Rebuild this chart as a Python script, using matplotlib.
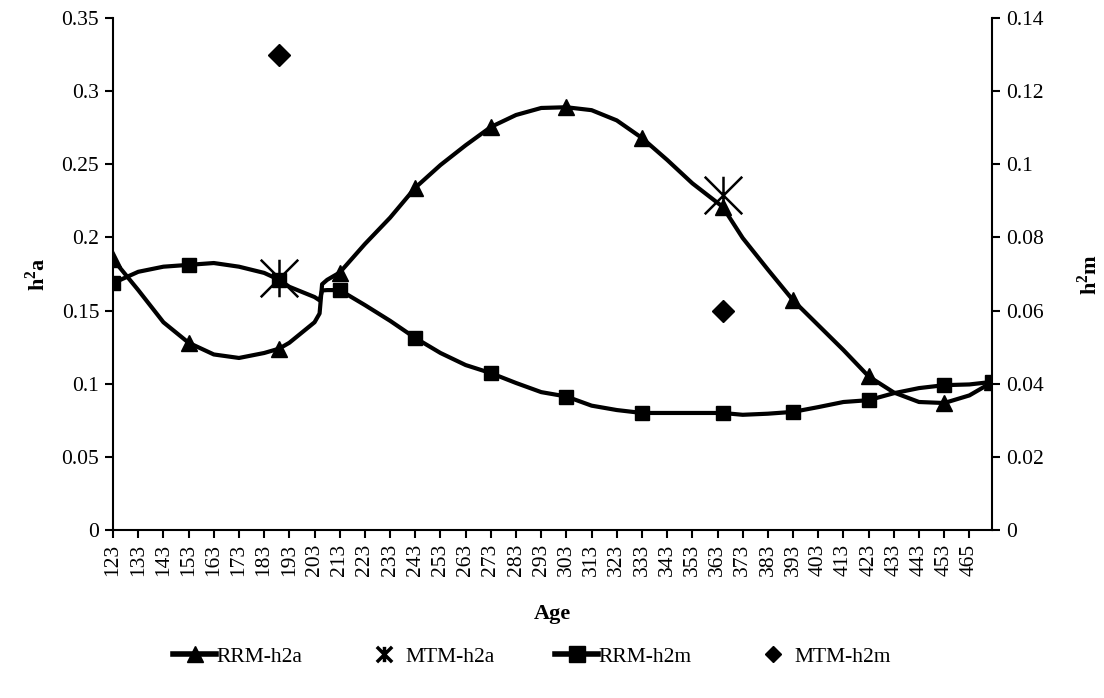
import matplotlib
matplotlib.use("Agg")
import matplotlib.pyplot as plt
from matplotlib.path import Path
from matplotlib.lines import Line2D

plt.rcParams['font.family'] = ['Liberation Serif', 'DejaVu Serif']

# category axis: labels every 10 categories
tick_labels = ['123', '133', '143', '153', '163', '173', '183', '193', '203', '213',
               '223', '233', '243', '253', '263', '273', '283', '293', '303', '313',
               '323', '333', '343', '353', '363', '373', '383', '393', '403', '413',
               '423', '433', '443', '453', '465']
n_cat = 349

# RRM-h2a curve (left axis), category position -> value
pos_a = [0, 10, 20, 30, 40, 50, 60, 66, 70, 80, 82, 83, 85, 90, 100, 110, 120, 130,
         140, 150, 160, 170, 180, 190, 200, 210, 220, 230, 242, 250, 260, 270, 280,
         290, 300, 310, 320, 330, 340, 349]
rrm_h2a = [0.185, 0.164, 0.142, 0.128, 0.120, 0.1176, 0.121, 0.124, 0.128, 0.142,
           0.148, 0.168, 0.171, 0.176, 0.1955, 0.2135, 0.234, 0.2495, 0.263, 0.2755,
           0.2837, 0.2885, 0.289, 0.287, 0.280, 0.268, 0.253, 0.237, 0.221, 0.1996,
           0.178, 0.157, 0.140, 0.123, 0.105, 0.094, 0.0875, 0.0868, 0.092, 0.101]

# RRM-h2m curve (right axis)
pos_m = pos_a
rrm_h2m = [0.0675, 0.0706, 0.072, 0.0725, 0.073, 0.072, 0.0703, 0.0684, 0.0665, 0.0637,
           0.0628, 0.0655, 0.0656, 0.0656, 0.0615, 0.0572, 0.0525, 0.0484, 0.0451, 0.0429,
           0.0402, 0.0377, 0.0365, 0.034, 0.0328, 0.032, 0.032, 0.032, 0.032, 0.0315,
           0.0318, 0.0323, 0.0336, 0.035, 0.0355, 0.0374, 0.0388, 0.0396, 0.0398, 0.0405]

# points where markers are shown
mark_pos = [0, 30, 66, 90, 120, 150, 180, 210, 242, 270, 300, 330, 349]

# MTM estimates
mtm_pos = [66, 242]
mtm_h2a = [0.172, 0.229]
mtm_h2m = [0.13, 0.06]

# asterisk marker like Excel's
star = Path([(-1, -1), (1, 1), (-1, 1), (1, -1), (0, -1), (0, 1)],
            [Path.MOVETO, Path.LINETO, Path.MOVETO, Path.LINETO, Path.MOVETO, Path.LINETO])

fig = plt.figure(figsize=(11.04, 6.98), dpi=100)
ax = fig.add_axes([0.1024, 0.2407, 0.7962, 0.7335])
ax2 = ax.twinx()

ev_a = [pos_a.index(p) for p in mark_pos]
ev_m = [pos_m.index(p) for p in mark_pos]

ax.plot(pos_a, rrm_h2a, color='black', lw=3, marker='^', ms=11, markevery=ev_a, zorder=3)
ax.plot(mtm_pos, mtm_h2a, ls='none', marker=star, ms=27, mew=1.8, color='black',
        zorder=4)
ax2.plot(pos_m, rrm_h2m, color='black', lw=3, marker='s', ms=10.5, markevery=ev_m, zorder=3)
ax2.plot(mtm_pos, mtm_h2m, ls='none', marker='D', ms=11, color='black', zorder=4)

ax.set_xlim(0, n_cat)
ax.set_ylim(0, 0.35)
ax2.set_ylim(0, 0.14)
ax.set_yticks([0, 0.05, 0.1, 0.15, 0.2, 0.25, 0.3, 0.35])
ax.set_yticklabels(['0', '0.05', '0.1', '0.15', '0.2', '0.25', '0.3', '0.35'])
ax2.set_yticks([0, 0.02, 0.04, 0.06, 0.08, 0.1, 0.12, 0.14])
ax2.set_yticklabels(['0', '0.02', '0.04', '0.06', '0.08', '0.1', '0.12', '0.14'])
ax.set_xticks(range(0, 10 * len(tick_labels), 10))
ax.set_xticklabels(tick_labels, rotation=90)

for a in (ax, ax2):
    a.spines['top'].set_visible(False)
    for s in a.spines.values():
        s.set_linewidth(1.5)
    a.tick_params(direction='out', length=6, width=1.5, labelsize=15.5, pad=4)
ax.spines['right'].set_visible(False)
ax2.spines['left'].set_visible(False)
ax2.spines['bottom'].set_visible(False)

ax.set_xlabel('Age', fontsize=16, fontweight='bold', labelpad=20)
ax.set_ylabel('h$^\\mathregular{2}$a', fontsize=16, fontweight='bold', labelpad=8)
ax2.set_ylabel('h$^\\mathregular{2}$m', fontsize=16, fontweight='bold', labelpad=24)

handles = [
    Line2D([], [], color='black', lw=4, marker='^', ms=11),
    Line2D([], [], ls='none', color='black', marker=star, ms=11, mew=2.5),
    Line2D([], [], color='black', lw=4, marker='s', ms=11),
    Line2D([], [], ls='none', color='black', marker='D', ms=8),
]
fig.legend(handles, ['RRM-h2a', 'MTM-h2a', 'RRM-h2m', 'MTM-h2m'], loc='center',
           bbox_to_anchor=(0.482, 0.059), ncol=4, frameon=False, fontsize=15.5,
           handlelength=2, handletextpad=0.0, columnspacing=2.8)

fig.savefig('out.png', dpi=100)
